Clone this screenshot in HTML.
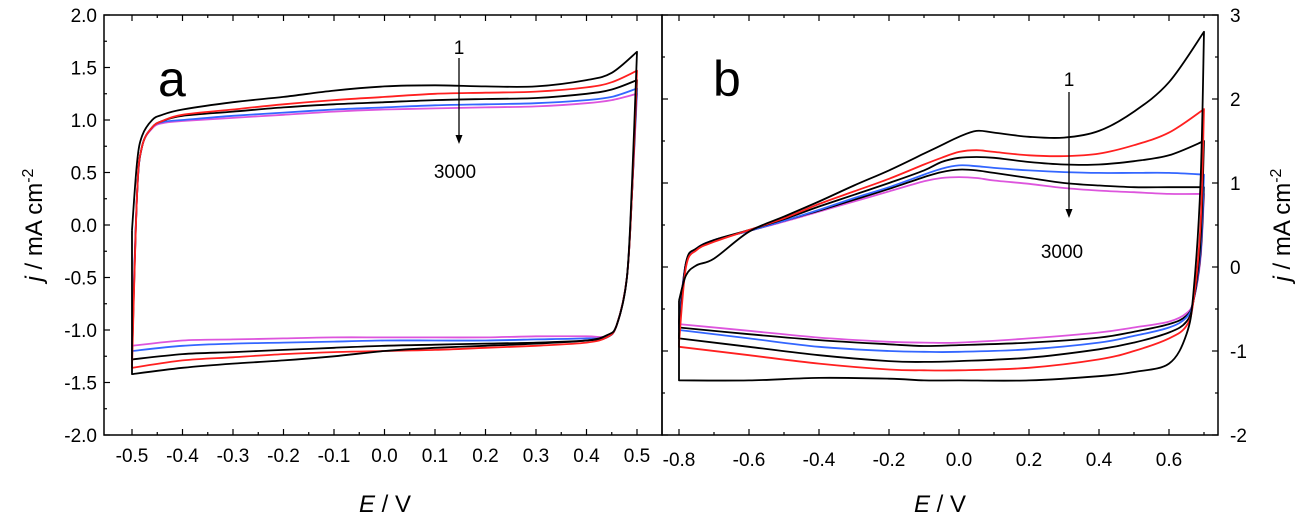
<!DOCTYPE html>
<html><head><meta charset="utf-8"><style>
body{margin:0;background:#fff}
svg text{font-family:"Liberation Sans",Arial,sans-serif;fill:#000}
</style></head><body>
<svg id="c" width="1304" height="522" xmlns="http://www.w3.org/2000/svg"></svg>
<script>
// Panel a data
const aUpperE=[-0.5,-0.49,-0.48,-0.46,-0.44,-0.4,-0.3,-0.2,-0.1,0,0.1,0.2,0.3,0.4,0.45,0.5];
const aLowerE=[0.5,0.49,0.48,0.46,0.44,0.4,0.3,0.2,0.1,0,-0.1,-0.2,-0.3,-0.4,-0.5];
const aUp1=[-0.05,0.6,0.85,1.0,1.05,1.1,1.17,1.22,1.28,1.32,1.33,1.32,1.32,1.38,1.45,1.65];
const aUp2=[-1.36,0.3,0.75,0.93,0.99,1.05,1.1,1.15,1.19,1.22,1.25,1.26,1.27,1.31,1.36,1.47];
const aUp3=[-1.28,0.3,0.75,0.93,0.99,1.04,1.08,1.12,1.15,1.17,1.19,1.2,1.21,1.25,1.29,1.38];
const aUp4=[-1.2,0.3,0.75,0.93,0.98,1.0,1.04,1.07,1.1,1.12,1.14,1.15,1.16,1.19,1.22,1.3];
const aUp5=[-1.15,0.3,0.75,0.92,0.97,0.99,1.02,1.05,1.08,1.1,1.11,1.12,1.13,1.16,1.19,1.25];
const aLo1=[1.65,0.4,-0.5,-0.95,-1.05,-1.1,-1.13,-1.15,-1.17,-1.2,-1.25,-1.29,-1.32,-1.36,-1.42];
const aLo2=[1.47,0.3,-0.5,-0.95,-1.07,-1.12,-1.15,-1.17,-1.19,-1.2,-1.21,-1.23,-1.26,-1.29,-1.36];
const aLo3=[1.38,0.3,-0.5,-0.95,-1.07,-1.1,-1.12,-1.13,-1.14,-1.15,-1.17,-1.19,-1.21,-1.23,-1.28];
const aLo4=[1.3,0.3,-0.5,-0.95,-1.07,-1.08,-1.09,-1.1,-1.1,-1.1,-1.11,-1.12,-1.13,-1.15,-1.2];
const aLo5=[1.25,0.3,-0.5,-0.95,-1.06,-1.06,-1.06,-1.07,-1.07,-1.07,-1.07,-1.08,-1.09,-1.1,-1.15];
// Panel b data
const bUpperE=[-0.8,-0.78,-0.75,-0.7,-0.6,-0.5,-0.4,-0.3,-0.2,-0.1,-0.05,0,0.05,0.1,0.2,0.3,0.4,0.5,0.6,0.7];
const bLowerE=[0.7,0.69,0.67,0.65,0.6,0.5,0.4,0.2,0,-0.1,-0.2,-0.4,-0.6,-0.8];
const bUp1=[-0.4,-0.1,0.02,0.1,0.42,0.6,0.78,0.97,1.15,1.35,1.45,1.55,1.62,1.6,1.55,1.54,1.62,1.85,2.2,2.8];
const bUp2=[-0.9,0.0,0.2,0.3,0.44,0.58,0.75,0.9,1.05,1.22,1.3,1.37,1.39,1.37,1.33,1.32,1.35,1.45,1.6,1.88];
const bUp3=[-0.8,0.05,0.22,0.32,0.44,0.57,0.72,0.86,1.0,1.15,1.25,1.3,1.31,1.3,1.25,1.22,1.22,1.26,1.33,1.5];
const bUp4=[-0.7,0.05,0.22,0.32,0.43,0.55,0.68,0.82,0.95,1.1,1.17,1.21,1.2,1.18,1.15,1.13,1.12,1.12,1.12,1.1];
const bUp5=[-0.65,0.05,0.22,0.32,0.43,0.55,0.67,0.8,0.93,1.07,1.13,1.16,1.15,1.12,1.06,1.0,0.97,0.95,0.95,0.95];
const bUp6=[-0.6,0.05,0.22,0.32,0.43,0.54,0.66,0.78,0.9,1.02,1.06,1.07,1.06,1.03,0.99,0.94,0.91,0.89,0.87,0.87];
const bLo1=[2.8,1.0,-0.3,-0.8,-1.15,-1.25,-1.3,-1.35,-1.35,-1.35,-1.33,-1.32,-1.35,-1.35];
const bLo2=[1.88,0.5,-0.4,-0.7,-0.85,-1.0,-1.1,-1.2,-1.23,-1.23,-1.22,-1.15,-1.05,-0.95];
const bLo3=[1.5,0.3,-0.4,-0.65,-0.78,-0.9,-0.98,-1.08,-1.12,-1.13,-1.12,-1.05,-0.95,-0.85];
const bLo4=[1.1,0.2,-0.4,-0.6,-0.72,-0.82,-0.9,-0.98,-1.01,-1.01,-1.0,-0.95,-0.85,-0.75];
const bLo5=[0.95,0.15,-0.4,-0.58,-0.68,-0.77,-0.84,-0.9,-0.93,-0.94,-0.92,-0.87,-0.8,-0.72];
const bLo6=[0.87,0.1,-0.4,-0.55,-0.65,-0.72,-0.78,-0.85,-0.9,-0.9,-0.89,-0.84,-0.76,-0.68];
const aXTicks=["-0.5","-0.4","-0.3","-0.2","-0.1","0.0","0.1","0.2","0.3","0.4","0.5"];
const aYTicks=["-2.0","-1.5","-1.0","-0.5","0.0","0.5","1.0","1.5","2.0"];
const bXTicks=["-0.8","-0.6","-0.4","-0.2","0.0","0.2","0.4","0.6"];
const bYTicks=["-2","-1","0","1","2","3"];

const svg=document.getElementById('c');
const NS='http://www.w3.org/2000/svg';
function mk(t,at,txt){const e=document.createElementNS(NS,t);for(const k in at)e.setAttribute(k,at[k]);if(txt!=null)e.textContent=txt;svg.appendChild(e);return e;}
const T=15,B=435;
const ax=v=>132+(v+0.5)*505, ay=v=>T+(2-v)*105;
const bx=v=>679+(v+0.8)*350, by=v=>T+(3-v)*84;

let f=mk('rect',{x:104,y:T,width:558,height:B-T,fill:'none',stroke:'#000','stroke-width':1.5});

f=mk('rect',{x:662,y:T,width:556,height:B-T,fill:'none',stroke:'#000','stroke-width':1.5});


for(let i=0;i<=20;i++){const v=-0.5+i*0.05,x=ax(v),L=i%2?3:6;
 mk('line',{x1:x,y1:B,x2:x,y2:B-L,stroke:'#000','stroke-width':1.2});
 mk('line',{x1:x,y1:T,x2:x,y2:T+L,stroke:'#000','stroke-width':1.2});}
aXTicks.forEach(s=>{const t=mk('text',{x:ax(parseFloat(s)),y:B+27,'font-size':19,'text-anchor':'middle'},s);
 });
for(let i=0;i<=16;i++){const v=-2+i*0.25,y=ay(v),L=i%2?3:6;
 mk('line',{x1:104,y1:y,x2:104+L,y2:y,stroke:'#000','stroke-width':1.2});}
aYTicks.forEach(s=>{const t=mk('text',{x:97,y:ay(parseFloat(s))+7,'font-size':19,'text-anchor':'end'},s);
 });
for(let i=0;i<=15;i++){const v=-0.8+i*0.1,x=bx(v),L=i%2?3:6;
 mk('line',{x1:x,y1:B,x2:x,y2:B-L,stroke:'#000','stroke-width':1.2});
 mk('line',{x1:x,y1:T,x2:x,y2:T+L,stroke:'#000','stroke-width':1.2});}
bXTicks.forEach(s=>{const t=mk('text',{x:bx(parseFloat(s)),y:B+31,'font-size':19,'text-anchor':'middle'},s);
 });
for(let i=0;i<=10;i++){const v=-2+i*0.5,y=by(v),L=i%2?3:6;
 mk('line',{x1:1218,y1:y,x2:1218-L,y2:y,stroke:'#000','stroke-width':1.2});
 mk('line',{x1:662,y1:y,x2:662+L,y2:y,stroke:'#000','stroke-width':1.2});}
bYTicks.forEach(s=>{const t=mk('text',{x:1230,y:by(parseFloat(s))+7,'font-size':19,'text-anchor':'start'},s);
 });

function smooth(pts){let d='';
 for(let i=0;i<pts.length-1;i++){const p0=pts[Math.max(0,i-1)],p1=pts[i],p2=pts[i+1],p3=pts[Math.min(pts.length-1,i+2)];
  const c1=[p1[0]+(p2[0]-p0[0])/6,p1[1]+(p2[1]-p0[1])/6],c2=[p2[0]-(p3[0]-p1[0])/6,p2[1]-(p3[1]-p1[1])/6];
  d+=`C${c1[0].toFixed(1)},${c1[1].toFixed(1)} ${c2[0].toFixed(1)},${c2[1].toFixed(1)} ${p2[0].toFixed(1)},${p2[1].toFixed(1)}`;}
 return d;}
function curve(E1,U,E2,L,fx,fy,col,name){
 const up=E1.map((e,i)=>[fx(e),fy(U[i])]);
 const lo=E2.map((e,i)=>[fx(e),fy(L[i])]);
 let d='M'+up[0][0].toFixed(1)+','+up[0][1].toFixed(1)+smooth(up)+smooth(lo)+'L'+up[0][0].toFixed(1)+','+up[0][1].toFixed(1);
 const p=mk('path',{d:d,fill:'none',stroke:col,'stroke-width':1.8,'stroke-linejoin':'round'});
 }
curve(aUpperE,aUp5,aLowerE,aLo5,ax,ay,'#dd55dd','a-cycle-3000');
curve(aUpperE,aUp4,aLowerE,aLo4,ax,ay,'#3366ff','a-cycle-4');
curve(aUpperE,aUp3,aLowerE,aLo3,ax,ay,'#000','a-cycle-3');
curve(aUpperE,aUp2,aLowerE,aLo2,ax,ay,'#ff2020','a-cycle-2');
curve(aUpperE,aUp1,aLowerE,aLo1,ax,ay,'#000','a-cycle-1');
curve(bUpperE,bUp6,bLowerE,bLo6,bx,by,'#dd55dd','b-cycle-3000');
curve(bUpperE,bUp5,bLowerE,bLo5,bx,by,'#000','b-cycle-5');
curve(bUpperE,bUp4,bLowerE,bLo4,bx,by,'#3366ff','b-cycle-4');
curve(bUpperE,bUp3,bLowerE,bLo3,bx,by,'#000','b-cycle-3');
curve(bUpperE,bUp2,bLowerE,bLo2,bx,by,'#ff2020','b-cycle-2');
curve(bUpperE,bUp1,bLowerE,bLo1,bx,by,'#000','b-cycle-1');

function arrow(x,y1,y2,name){const p=mk('path',{d:`M${x},${y1}L${x},${y2-8}`,stroke:'#000','stroke-width':1.3});
 mk('path',{d:`M${x-3.5},${y2-9}L${x+3.5},${y2-9}L${x},${y2}Z`,fill:'#000'});
 }
arrow(459,58,144,'a-arrow');arrow(1069,92,218,'b-arrow');
const labels=[['a-label-1',459,54,'1',19],['a-label-3000',455,178,'3000',19],['b-label-1',1069,86,'1',19],['b-label-3000',1062,258,'3000',19]];
labels.forEach(l=>{const t=mk('text',{x:l[1],y:l[2],'font-size':l[4],'text-anchor':'middle'},l[3]);});
let t=mk('text',{x:158,y:96,'font-size':50},'a');
t=mk('text',{x:713,y:96,'font-size':50},'b');
t=mk('text',{x:385,y:512,'font-size':24,'text-anchor':'middle'});t.innerHTML='<tspan font-style="italic">E</tspan> / V';

t=mk('text',{x:940,y:512,'font-size':24,'text-anchor':'middle'});t.innerHTML='<tspan font-style="italic">E</tspan> / V';

t=mk('text',{x:0,y:0,'font-size':24,'text-anchor':'middle',transform:'translate(42,225) rotate(-90)'});t.innerHTML='<tspan font-style="italic">j</tspan> / mA cm<tspan dy="-9" font-size="16">-2</tspan>';

t=mk('text',{x:0,y:0,'font-size':24,'text-anchor':'middle',transform:'translate(1290,225) rotate(-90)'});t.innerHTML='<tspan font-style="italic">j</tspan> / mA cm<tspan dy="-9" font-size="16">-2</tspan>';

</script>
</body></html>
